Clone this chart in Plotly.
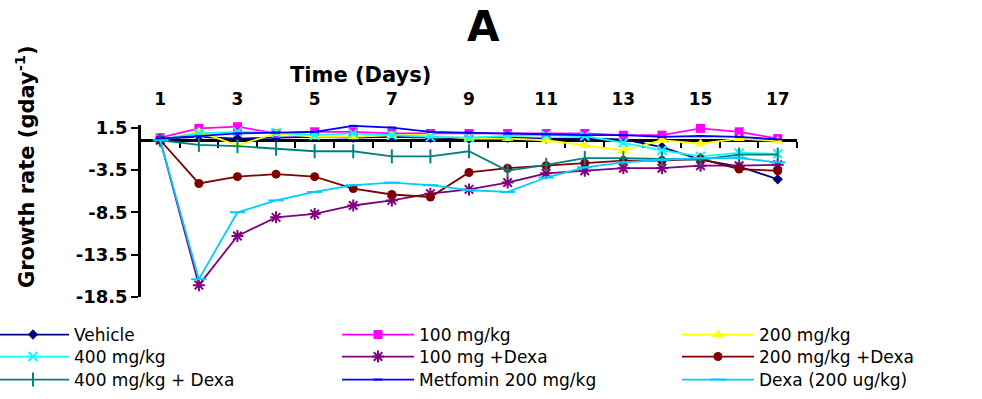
import plotly.graph_objects as go

days = list(range(1, 18))
tick_days = [1, 3, 5, 7, 9, 11, 13, 15, 17]
y_ticks = [1.5, -3.5, -8.5, -13.5, -18.5]
boundaries = [d + 0.5 for d in range(1, 18)]

vehicle = [0.2, 0.4, 0.2, 0.3, 0.4, 0.3, 0.4, 0.3, 0.2, 0.3, 0.2, 0.2, 0.1, -0.8, -2.3, -3.1, -4.6]
mg100 = [0.3, 1.4, 1.6, 0.8, 1.0, 1.0, 0.8, 0.8, 0.8, 0.8, 0.8, 0.8, 0.6, 0.6, 1.4, 1.0, 0.2]
mg200 = [0.0, 1.0, -0.6, 0.8, 0.4, 0.4, 0.6, 0.6, 0.2, 0.2, 0.0, -0.6, -1.2, 0.0, -0.4, 0.2, -0.1]
mg400 = [0.1, 0.8, 1.0, 0.9, 0.6, 0.8, 0.6, 0.4, 0.3, 0.5, 0.6, 0.5, -0.3, -1.2, -1.9, -1.5, -1.6]
mg100_dexa = [0.0, -17.1, -11.3, -9.1, -8.7, -7.7, -7.1, -6.3, -5.8, -5.0, -3.9, -3.6, -3.3, -3.3, -3.0, -3.0, -2.9]
mg200_dexa = [0.0, -5.1, -4.3, -4.0, -4.3, -5.7, -6.4, -6.7, -3.8, -3.3, -3.0, -2.7, -2.4, -2.4, -2.2, -3.4, -3.6]
mg400_dexa = [0.0, -0.55, -0.7, -1.0, -1.3, -1.3, -1.9, -1.9, -1.3, -3.6, -2.9, -2.1, -2.1, -2.2, -2.3, -1.7, -1.7]
metformin = [0.2, 0.5, 0.8, 0.9, 1.0, 1.7, 1.5, 1.0, 0.9, 0.8, 0.7, 0.6, 0.6, 0.4, 0.5, 0.4, 0.1]
dexa = [0.0, -16.4, -8.5, -7.1, -6.1, -5.3, -5.0, -5.3, -5.9, -6.1, -4.4, -3.2, -2.6, -2.3, -2.1, -2.1, -2.6]

series = [
    # name, values, color, symbol, size
    ("Vehicle", vehicle, "#000080", "diamond", 8),
    ("100 mg/kg", mg100, "#FF00FF", "square", 9),
    ("200 mg/kg", mg200, "#FFFF00", "triangle-up", 10),
    ("400 mg/kg", mg400, "#00FFFF", "x-thin-open", 9),
    ("100 mg +Dexa", mg100_dexa, "#800080", "asterisk-open", 10),
    ("200 mg/kg +Dexa", mg200_dexa, "#800000", "circle", 9),
    ("400 mg/kg + Dexa", mg400_dexa, "#008080", "line-ns-open", 10),
    ("Metfomin 200 mg/kg", metformin, "#0000FF", "line-ew-open", 6),
    ("Dexa (200 ug/kg)", dexa, "#00CCFF", "line-ew-open", 11),
]

# figure geometry (pixels)
W, H = 982, 399
L, R, T, B = 141, 797, 125, 297
pw, ph = R - L, B - T

def px(x):
    return (x - L) / pw

def py(y):
    return (B - y) / ph

col_x = [-8, 337, 677]
row_y = [335, 357, 380]

leg_font = dict(family="DejaVu Sans", size=17, color="black")

fig = go.Figure()
legends = {}
for i, (name, vals, color, sym, size) in enumerate(series):
    open_sym = sym.endswith("open")
    lname = "legend" if i == 0 else f"legend{i + 1}"
    fig.add_trace(go.Scatter(
        x=days, y=vals, name=name, mode="lines+markers",
        line=dict(color=color, width=1.8),
        marker=dict(symbol=sym, size=size, color=color,
                    line=dict(color=color, width=2 if open_sym else 0)),
        cliponaxis=False, legend=lname,
    ))
    legends[lname] = dict(x=px(col_x[i % 3]), y=py(row_y[i // 3]),
                          xanchor="left", yanchor="middle",
                          font=leg_font, itemwidth=72,
                          bgcolor="rgba(0,0,0,0)")

# invisible trace to carry the zero-crossing category axis
fig.add_trace(go.Scatter(x=[days[0]], y=[0], xaxis="x2", mode="markers",
                         marker=dict(opacity=0), showlegend=False, hoverinfo="skip"))

y_lo, y_hi = -18.5, 1.8
zero_pos = (0 - y_lo) / (y_hi - y_lo)

tick_font = dict(family="DejaVu Sans", size=18, color="black", weight="bold")

fig.update_layout(
    width=W, height=H,
    margin=dict(l=L, r=W - R, t=T, b=H - B, autoexpand=False),
    paper_bgcolor="white", plot_bgcolor="white",
    showlegend=True,
    xaxis=dict(range=[0.5, 17.5], side="top", tickvals=tick_days,
               ticktext=[str(d) for d in tick_days],
               ticks="outside", ticklen=12, tickcolor="rgba(0,0,0,0)",
               showline=False, showgrid=False, zeroline=False,
               tickfont=dict(family="DejaVu Sans", size=17, color="black", weight="bold")),
    xaxis2=dict(range=[0.5, 17.5], overlaying="x", anchor="free", position=zero_pos,
                side="bottom", tickvals=boundaries, ticks="outside", ticklen=6,
                tickwidth=2, tickcolor="black", showticklabels=False,
                showline=True, linecolor="black", linewidth=2.5,
                showgrid=False, zeroline=False, layer="below traces"),
    yaxis=dict(range=[y_lo, y_hi], tickvals=y_ticks,
               ticktext=[str(v) for v in y_ticks],
               ticks="outside", ticklen=7, tickwidth=2, tickcolor="black",
               showline=True, linecolor="black", linewidth=2.5,
               showgrid=False, zeroline=False, tickfont=tick_font),
    annotations=[
        dict(text="<b>A</b>", x=px(483), y=py(26), xref="paper", yref="paper",
             xanchor="center", yanchor="middle", showarrow=False,
             font=dict(family="DejaVu Sans", size=42, color="black")),
        dict(text="<b>Time (Days)</b>", xref="paper", yref="paper",
             x=px(360), y=py(75), xanchor="center", yanchor="middle",
             showarrow=False, font=dict(family="DejaVu Sans", size=21, color="black")),
        dict(text="<b>Growth rate (gday<sup>-1</sup>)</b>", xref="paper", yref="paper",
             x=px(25), y=py(167), xanchor="center", yanchor="middle",
             textangle=-90, showarrow=False,
             font=dict(family="DejaVu Sans", size=21, color="black")),
    ],
)
fig.update_layout(**legends)

fig.write_html("out.html", config={"displayModeBar": False},
               post_script="document.body.style.margin='0px';")
